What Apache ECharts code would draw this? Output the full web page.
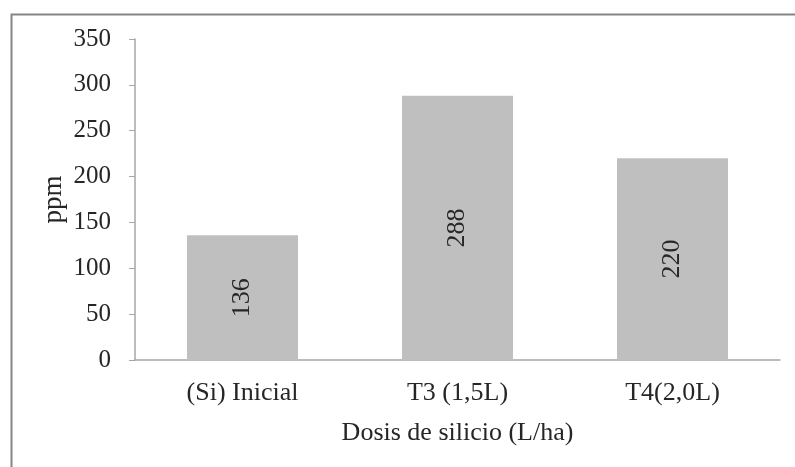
<!DOCTYPE html>
<html>
<head>
<meta charset="utf-8">
<script src="https://cdn.jsdelivr.net/npm/echarts@6/dist/echarts.min.js"></script>
<style>
  html, body { margin: 0; padding: 0; background: #fff; }
  #chart { width: 795px; height: 467px; }
</style>
</head>
<body>
<div id="chart"></div>
<script>
// Silicon content by dose
const categories = ['(Si) Inicial', 'T3 (1,5L)', 'T4(2,0L)'];
const values = [136, 288, 220];
const yTicks = { min: 0, max: 350, interval: 50 };
const xName = 'Dosis de silicio (L/ha)';
const yName = 'ppm';

const font = '"Liberation Serif", "Times New Roman", serif';
const textColor = '#262626';
const axisColor = '#a6a6a6';

const chart = echarts.init(document.getElementById('chart'), null, { renderer: 'canvas' });
chart.setOption({
  animation: false,
  backgroundColor: '#fff',
  graphic: [{
    type: 'rect',
    left: 9, top: 12,
    shape: { width: 800, height: 470 },
    style: { fill: 'none', stroke: '#858585', lineWidth: 2 },
    silent: true
  }],
  grid: { left: 135, right: 15, top: 39, bottom: 107, containLabel: false },
  xAxis: {
    type: 'category',
    data: categories,
    name: xName,
    nameLocation: 'middle',
    nameGap: 60,
    nameMoveOverlap: false,
    nameTextStyle: { fontFamily: font, fontSize: 26, color: textColor },
    axisLine: { lineStyle: { color: axisColor, width: 1.5 } },
    axisTick: { show: false },
    axisLabel: { fontFamily: font, fontSize: 26, color: textColor, margin: 20 }
  },
  yAxis: {
    type: 'value',
    min: yTicks.min, max: yTicks.max, interval: yTicks.interval,
    name: yName,
    nameLocation: 'middle',
    nameGap: 68,
    nameMoveOverlap: false,
    nameRotate: 90,
    nameTextStyle: { fontFamily: font, fontSize: 27, color: textColor },
    axisLine: { show: true, lineStyle: { color: axisColor, width: 1.5 } },
    axisTick: { show: true, length: 6, lineStyle: { color: axisColor } },
    splitLine: { show: false },
    axisLabel: { fontFamily: font, fontSize: 25, color: textColor, margin: 24 }
  },
  series: [{
    type: 'bar',
    data: values,
    barWidth: 111,
    itemStyle: { color: '#bfbfbf' },
    label: {
      show: true,
      position: 'inside',
      rotate: 90,
      fontFamily: font,
      fontSize: 26,
      color: textColor
    }
  }]
});
</script>
</body>
</html>
